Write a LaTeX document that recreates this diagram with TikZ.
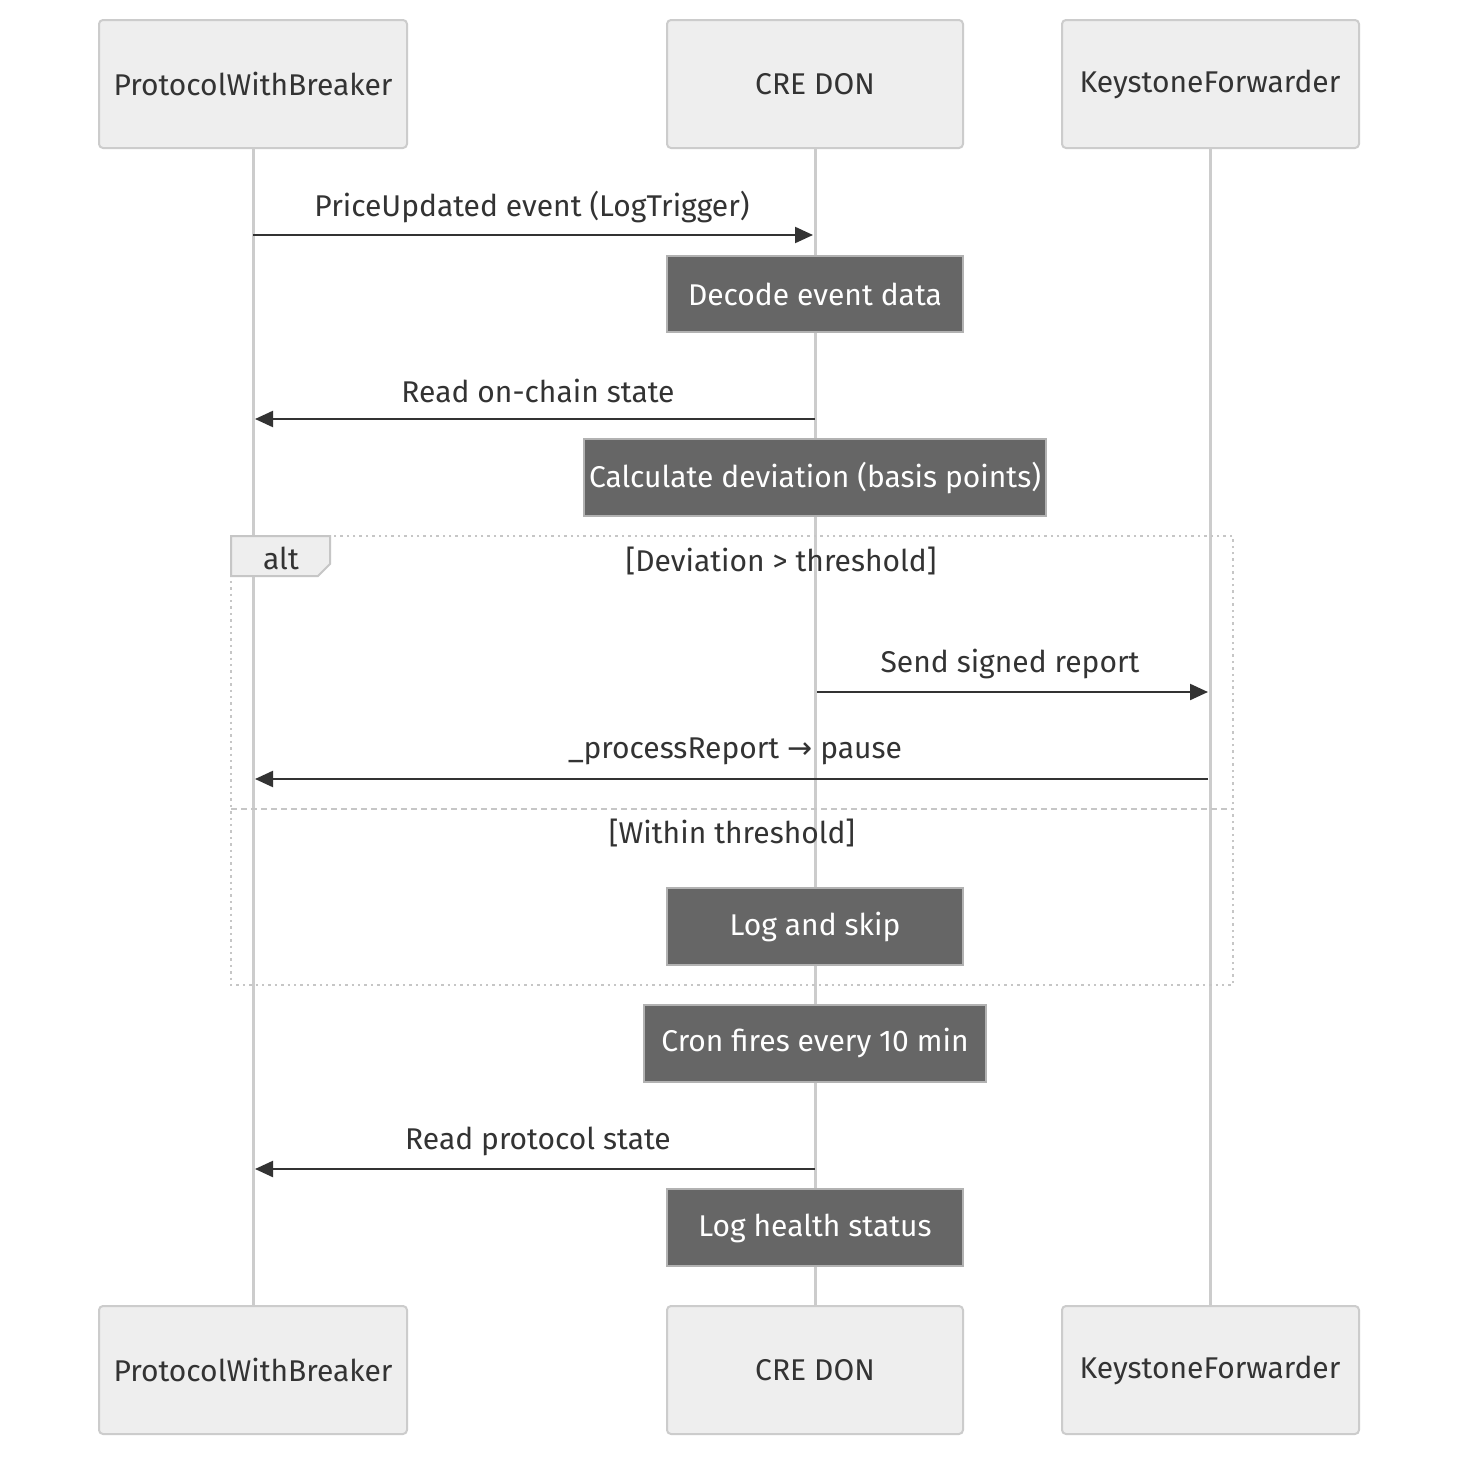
\documentclass[tikz,border=0pt]{standalone}
\usepackage{fontspec}
\setmainfont{Fira Sans}
\newfontfamily\symf{DejaVu Sans}
\usetikzlibrary{arrows.meta}
\definecolor{tx}{HTML}{333333}
\definecolor{ln}{HTML}{CCCCCC}
\definecolor{nt}{HTML}{666666}
\begin{document}
\begin{tikzpicture}[x=0.5pt,y=-0.5pt,
  actor/.style={draw=ln,line width=1pt,fill=gray!13,rounded corners=2pt},
  atext/.style={text=tx,font=\fontsize{15}{18}\selectfont},
  life/.style={draw=ln,line width=1.5pt},
  note/.style={draw=gray!60,line width=0.8pt,fill=nt},
  ntext/.style={text=white,font=\fontsize{15}{18}\selectfont},
  msg/.style={draw=tx,line width=1.1pt,-{Triangle[length=9pt,width=8pt]}},
  mtext/.style={text=tx,font=\fontsize{15}{18}\selectfont},
  frame/.style={draw=gray!45,line width=1.2pt,dotted}]
\useasboundingbox (0,0) rectangle (1474,1472);
\fill[white] (0,0) rectangle (1474,1472);
% lifelines
\draw[life] (253,148) -- (253,1306);
\draw[life] (815,148) -- (815,1306);
\draw[life] (1210,148) -- (1210,1306);
% actors
\foreach \y/\s in {20/t,1306/b}{
  \draw[actor] (99,\y) rectangle ++(308,128);
  \node[atext] (pw\s) at (253,\y+64) {ProtocolWithBreaker};
  \draw[actor] (667,\y) rectangle ++(296,128);
  \node[atext] (cre\s) at (815,\y+64) {CRE DON};
  \draw[actor] (1062,\y) rectangle ++(297,128);
  \node[atext] (kf\s) at (1210,\y+64) {KeystoneForwarder};
}
% messages
\coordinate (a1) at (253,235); \coordinate (b1) at (813,235);
\draw[msg] (a1) -- (b1);
\node[mtext] (m1) at (532,207) {PriceUpdated event (LogTrigger)};
\draw[note] (667,256) rectangle (963,332);
\node[ntext] (n1) at (815,294) {Decode event data};
\coordinate (a2) at (815,419); \coordinate (b2) at (255,419);
\draw[msg] (a2) -- (b2);
\node[mtext] (m2) at (538,391) {Read on-chain state};
\draw[note] (584,439) rectangle (1046,516);
\begin{scope}
\clip (584,439) rectangle (1046,516);
\node[ntext] (n2) at (815,478) {Calculate deviation (basis points)};
\end{scope}
% alt frame
\draw[frame] (231,536) rectangle (1233,985);
\draw[frame,dashed,densely dashed] (231,809) -- (1233,809);
\draw[fill=gray!13,draw=gray!45,line width=1pt] (231,536) -- (330,536) -- (330,564) -- (318,576) -- (231,576) -- cycle;
\node[mtext] (alt) at (281,558) {alt};
\node[mtext] (c1) at (781,561) {[Deviation > threshold]};
\coordinate (a3) at (817,692); \coordinate (b3) at (1208,692);
\draw[msg] (a3) -- (b3);
\node[mtext] (m3) at (1010,664) {Send signed report};
\coordinate (a4) at (1208,779); \coordinate (b4) at (255,779);
\draw[msg] (a4) -- (b4);
\node[mtext] (m4) at (735,751) {\_processReport {\symf →} pause};
\node[mtext] (c2) at (732,833) {[Within threshold]};
\draw[note] (667,888) rectangle (963,965);
\node[ntext] (n3) at (815,927) {Log and skip};
\draw[note] (644,1005) rectangle (986,1082);
\node[ntext] (n4) at (815,1043) {Cron fires every 10 min};
\coordinate (a5) at (815,1169); \coordinate (b5) at (255,1169);
\draw[msg] (a5) -- (b5);
\node[mtext] (m5) at (538,1141) {Read protocol state};
\draw[note] (667,1189) rectangle (963,1266);
\node[ntext] (n5) at (815,1228) {Log health status};
\end{tikzpicture}
\end{document}
